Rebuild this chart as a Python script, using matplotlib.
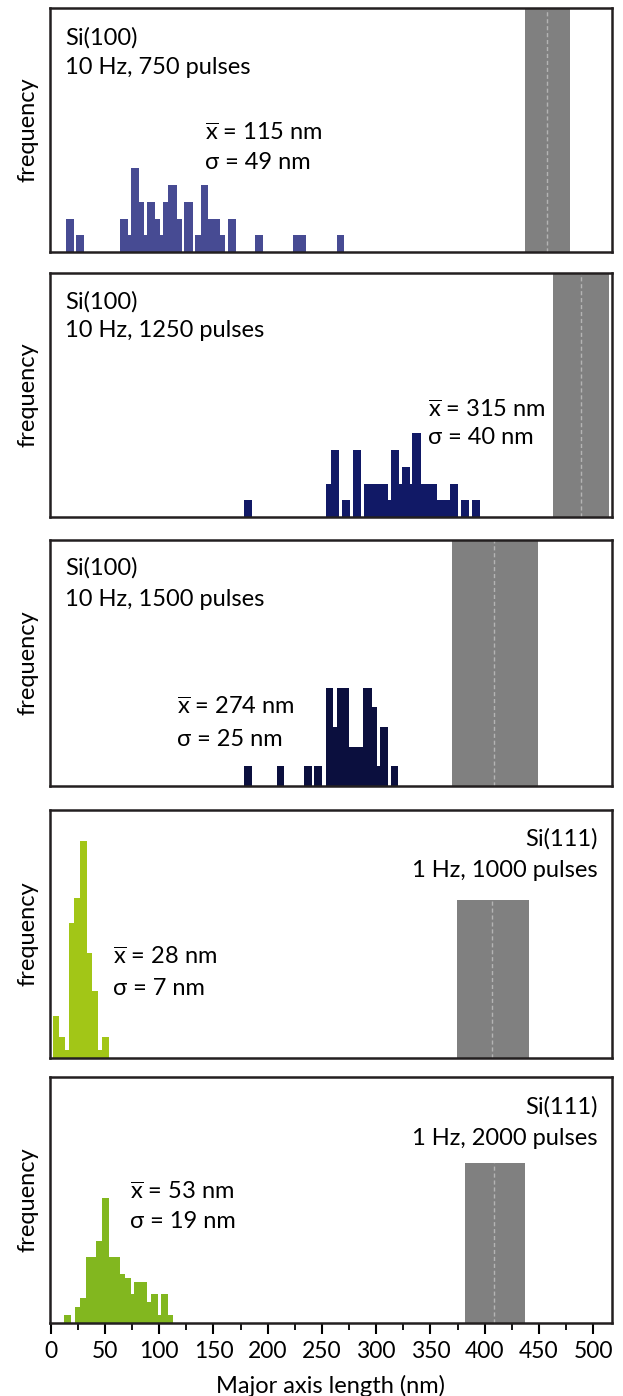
import matplotlib
matplotlib.use('Agg')
import matplotlib.pyplot as plt
from matplotlib.ticker import MultipleLocator

plt.rcParams['font.family'] = ['Lato', 'DejaVu Sans']
plt.rcParams['mathtext.fontset'] = 'custom'
plt.rcParams['mathtext.rm'] = 'Lato'

# histogram step edges (nm) and frequencies
edges1 = [13.8, 21.2, 23.6, 31.0, 63.9, 71.2, 73.7, 81.1, 86.0, 88.5, 96.1, 100.6, 103.8, 108.4,
          116.1, 120.7, 123.1, 130.9, 133.3, 138.5, 145.4, 156.0, 160.6, 163.7, 170.5, 188.3,
          195.4, 223.6, 235.3, 263.6, 270.6]
freq1 = [2, 0, 1, 0, 2, 1, 5, 3, 1, 3, 2, 1, 3, 4, 2, 0, 3, 0, 1, 4, 2, 1, 0, 2, 0, 1, 0, 1, 0, 1]

edges2 = [178.4, 185.8, 253.5, 258.3, 266.0, 268.8, 275.9, 278.9, 286.0, 288.8, 310.6, 313.6,
          321.0, 323.5, 331.1, 333.3, 341.0, 343.4, 355.8, 368.0, 375.7, 378.2, 385.8, 388.0, 395.7]
freq2 = [1, 0, 2, 4, 0, 1, 0, 4, 0, 2, 1, 4, 2, 3, 2, 5, 2, 2, 1, 2, 0, 1, 0, 1]

edges3 = [178.4, 185.8, 208.3, 215.3, 233.5, 240.6, 242.9, 250.3, 253.5, 260.5, 263.6, 274.9,
          288.1, 295.9, 300.5, 303.5, 310.6, 313.6, 320.4]
freq3 = [1, 0, 1, 0, 1, 0, 1, 0, 5, 3, 5, 2, 5, 4, 1, 3, 0, 1]

edges4 = [1.8, 7.6, 13.2, 16.9, 21.5, 27.0, 33.2, 38.3, 43.9, 47.0, 53.7]
freq4 = [2, 1, 0.4, 6.4, 7.6, 10.3, 5, 3.2, 0.4, 1]

edges5 = [12.3, 18.4, 22.4, 27.0, 32.3, 42.0, 47.0, 53.7, 63.9, 68.5, 74.0, 77.1, 88.5, 92.4,
          98.6, 101.7, 108.4, 113.0]
freq5 = [1, 0, 2, 3, 8, 10, 15.3, 8, 6, 5.5, 3.5, 5, 2.5, 3.5, 1, 3.5, 1]

# gray band (nm): start, end, dashed centre
bands = [(437, 478.6, 457.4), (463, 514.6, 488.7), (369.9, 449.1, 408.6),
         (374.5, 440.8, 406.7), (381.9, 437.1, 408.6)]
band_top = [1, 1, 1, 0.637, 0.65]

samples = ['Si(100)', 'Si(100)', 'Si(100)', 'Si(111)', 'Si(111)']
conds = ['10 Hz, 750 pulses', '10 Hz, 1250 pulses', '10 Hz, 1500 pulses',
         '1 Hz, 1000 pulses', '1 Hz, 2000 pulses']
means = [115, 315, 274, 28, 53]
sigmas = [49, 40, 25, 7, 19]

colors = ['#474b93', '#111966', '#0b0f3e', '#a2c617', '#82b71f']
ylims = [14.6, 14.6, 12.5, 11.8, 30]

FS = 17

fig = plt.figure(figsize=(6.23, 13.96), dpi=100)
axpos = [(0.8195, 0.1748), (0.6297, 0.1748), (0.437, 0.1762), (0.2421, 0.1777), (0.0523, 0.1762)]
# label positions in axes fraction
head = [(0.027, 'left'), (0.027, 'left'), (0.027, 'left'), (0.975, 'right'), (0.975, 'right')]
head_y = [(0.877, 0.754), (0.881, 0.762), (0.886, 0.756), (0.883, 0.754), (0.878, 0.752)]
stat_xy = [(0.276, 0.488, 0.365), (0.673, 0.439, 0.324), (0.226, 0.321, 0.187),
           (0.112, 0.407, 0.282), (0.142, 0.533, 0.411)]

data = [(edges1, freq1), (edges2, freq2), (edges3, freq3), (edges4, freq4), (edges5, freq5)]

axes = []
for i in range(5):
    ax = fig.add_axes([0.0803, axpos[i][0], 0.902, axpos[i][1]])
    axes.append(ax)
    e, f = data[i]
    ax.stairs(f, e, fill=True, color=colors[i], lw=0)
    b0, b1, bc = bands[i]
    ax.axvspan(b0, b1, ymin=0, ymax=band_top[i], color='#808080', lw=0, zorder=0)
    ax.plot([bc, bc], [0, band_top[i] * ylims[i]], color='#b4b4b4', lw=1, ls=(0, (3, 2)))
    ax.set_xlim(-0.6, 517.3)
    ax.set_ylim(0, ylims[i])
    ax.set_yticks([])
    for s in ax.spines.values():
        s.set_linewidth(1.8)
        s.set_color('#231f20')
    ax.set_ylabel('frequency', fontsize=FS, labelpad=8)
    hx, ha = head[i]
    ax.text(hx, head_y[i][0], samples[i], transform=ax.transAxes, ha=ha, va='center', fontsize=FS)
    ax.text(hx, head_y[i][1], conds[i], transform=ax.transAxes, ha=ha, va='center', fontsize=FS)
    sx, sy1, sy2 = stat_xy[i]
    ax.text(sx, sy1, r'$\overline{\mathrm{x}}$' + ' = %d nm' % means[i], transform=ax.transAxes,
            va='center', fontsize=FS)
    ax.text(sx, sy2, 'σ = %d nm' % sigmas[i], transform=ax.transAxes, va='center', fontsize=FS)
    if i < 4:
        ax.set_xticks([])

ax = axes[-1]
ax.xaxis.set_major_locator(MultipleLocator(50))
ax.xaxis.set_minor_locator(MultipleLocator(25))
ax.tick_params(axis='x', which='major', length=8, width=1.5, labelsize=16.5, direction='out', pad=5)
ax.tick_params(axis='x', which='minor', length=5, width=1.3, direction='out')
ax.set_xlabel('Major axis length (nm)', fontsize=FS, labelpad=9)

fig.savefig('out.png', dpi=100)
